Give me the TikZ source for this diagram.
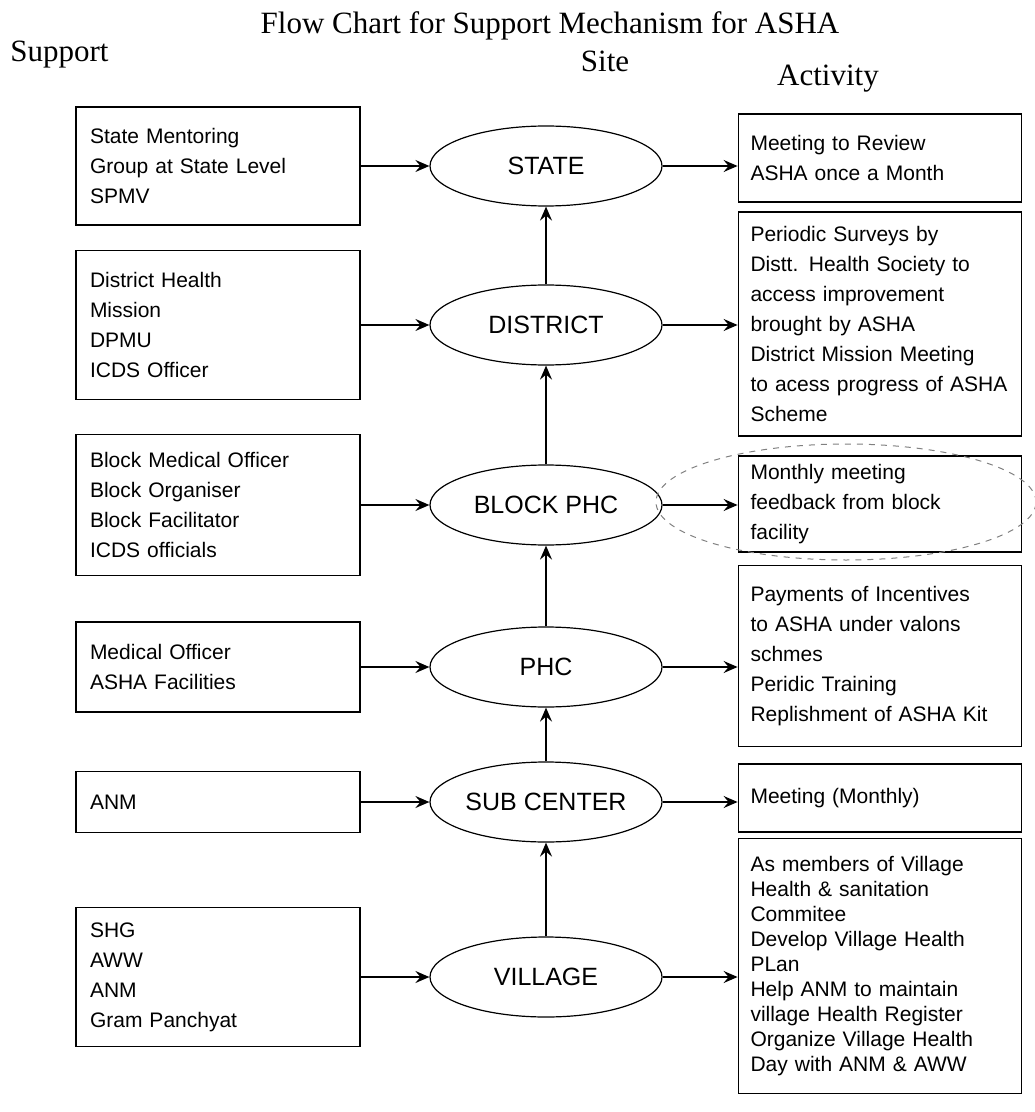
\documentclass[tikz,border=0pt]{standalone}
\usepackage{fontspec}
\setmainfont{Liberation Serif}
\setsansfont{Liberation Sans}
\usetikzlibrary{arrows.meta,shapes.geometric}

\begin{document}
\begin{tikzpicture}[x=0.5pt, y=-0.5pt,
    box/.style={draw, line width=0.9pt, rectangle, align=left, inner ysep=0pt, font=\sffamily\fontsize{10.5}{15}\selectfont},
    support/.style={box, inner xsep=7pt, text width=128pt},
    activity/.style={box, inner xsep=6pt, text width=129.5pt},
    site/.style={draw, ellipse, line width=0.6pt, inner sep=0pt, minimum width=116pt, minimum height=40pt, font=\sffamily\fontsize{12.5}{15}\selectfont},
    head/.style={inner sep=0pt, font=\fontsize{15.5}{19}\selectfont},
    link/.style={-{Stealth[length=7pt,width=6pt,inset=2.5pt]}, line width=0.9pt}]

        \useasboundingbox (0,0) rectangle (1034,1112);

        % headings
        \node[head, anchor=base]      (title)    at (550, 34) {Flow Chart for Support Mechanism for ASHA};
        \node[head, anchor=base west] (hsupport) at (10, 62)  {Support};
        \node[head, anchor=base]      (hsite)    at (605, 72) {Site};
        \node[head, anchor=base]      (hact)     at (828, 86) {Activity};

        % support
        \node[support, minimum height=59pt]   (sup1) at (218, 166) {State Mentoring\\Group at State Level\\SPMV};
        \node[support, minimum height=74.5pt] (sup2) at (218, 325) {District Health\\Mission\\DPMU\\ICDS Officer};
        \node[support, minimum height=70.5pt] (sup3) at (218, 505) {Block Medical Officer\\Block Organiser\\Block Facilitator\\ICDS officials};
        \node[support, minimum height=45pt]   (sup4) at (218, 667) {Medical Officer\\ASHA Facilities};
        \node[support, minimum height=30.5pt] (sup5) at (218, 802) {ANM};
        \node[support, minimum height=69.5pt] (sup6) at (218, 977) {SHG\\AWW\\ANM\\Gram Panchyat};

        % site
        \node[site] (state)    at (546, 166) {STATE};
        \node[site] (district) at (546, 325) {DISTRICT};
        \node[site] (block)    at (546, 505) {BLOCK PHC};
        \node[site] (phc)      at (546, 667) {PHC};
        \node[site] (sub)      at (546, 802) {SUB CENTER};
        \node[site] (village)  at (546, 977) {VILLAGE};

        % activity
        \node[activity, minimum height=44pt]    (act1) at (880, 158) {Meeting to Review\\ASHA once a Month};
        \node[activity, minimum height=112pt]   (act2) at (880, 324) {Periodic Surveys by\\Distt. Health Society to\\access improvement\\brought by ASHA\\District Mission Meeting\\to acess progress of ASHA\\Scheme};
        \node[activity, minimum height=48pt]    (act3) at (880, 504) {Monthly meeting\\feedback from block\\facility};
        \node[activity, minimum height=90.5pt]  (act4) at (880, 656) {Payments of Incentives\\to ASHA under valons\\schmes\\Peridic Training\\Replishment of ASHA Kit};
        \node[activity, minimum height=34pt]    (act5) at (880, 798) {Meeting (Monthly)};
        \node[activity, minimum height=127.5pt, font=\sffamily\fontsize{10.5}{12.5}\selectfont] (act6) at (880, 966) {As members of Village\\Health \& sanitation\\Commitee\\Develop Village Health\\PLan\\Help ANM to maintain\\village Health Register\\Organize Village Health\\Day with ANM \& AWW};

        % hand-drawn mark round the block activity
        \node[draw=gray, dashed, ellipse, line width=0.5pt, minimum width=190pt, minimum height=58pt] (hilite) at (846, 502) {};

        \draw[link] (sup1) -- (state);
        \draw[link] (sup2) -- (district);
        \draw[link] (sup3) -- (block);
        \draw[link] (sup4) -- (phc);
        \draw[link] (sup5) -- (sub);
        \draw[link] (sup6) -- (village);

        \draw[link] (village)  -- (sub);
        \draw[link] (sub)      -- (phc);
        \draw[link] (phc)      -- (block);
        \draw[link] (block)    -- (district);
        \draw[link] (district) -- (state);

        \draw[link] (state)    -- (state -| act1.west);
        \draw[link] (district) -- (district -| act2.west);
        \draw[link] (block)    -- (block -| act3.west);
        \draw[link] (phc)      -- (phc -| act4.west);
        \draw[link] (sub)      -- (sub -| act5.west);
        \draw[link] (village)  -- (village -| act6.west);

    \end{tikzpicture}
\end{document}
